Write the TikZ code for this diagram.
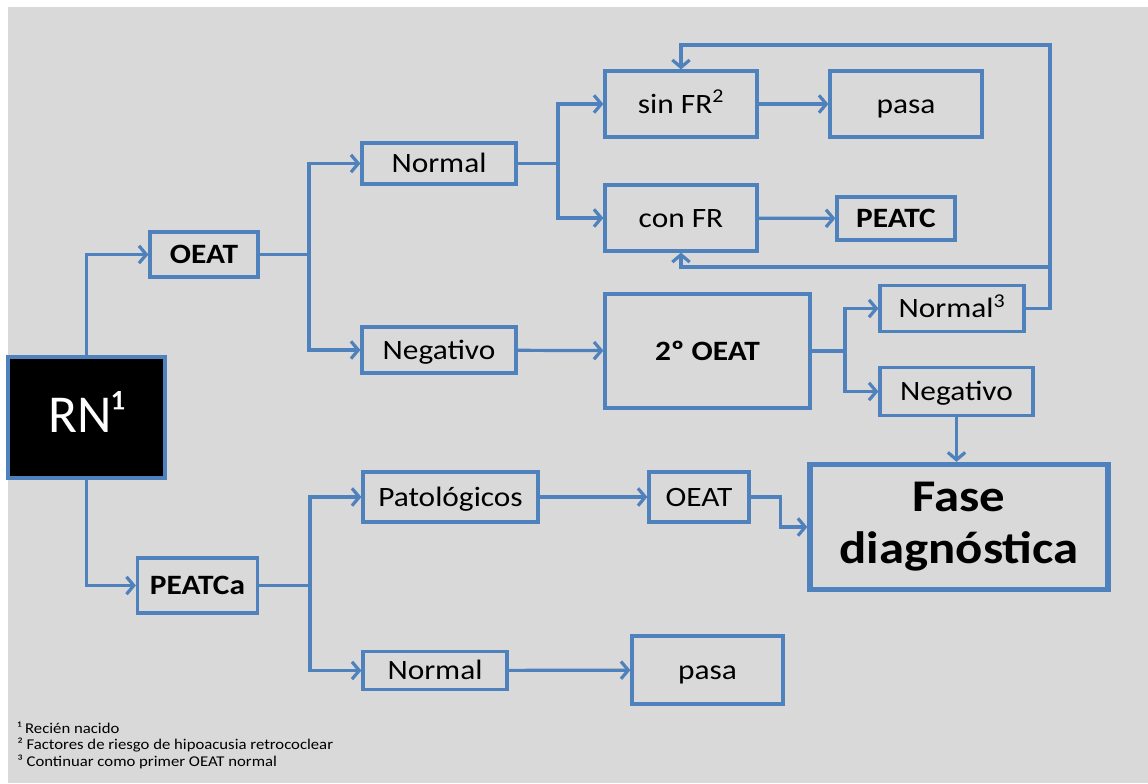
\documentclass[tikz,border=0pt]{standalone}
\usepackage{fontspec}
\setmainfont{Carlito}[FakeStretch=1.12]
\newfontfamily\rnfont{Carlito}
\usetikzlibrary{arrows.meta}
\definecolor{lineblue}{HTML}{4F81BD}
\definecolor{bggray}{HTML}{D9D9D9}

\begin{document}
\begin{tikzpicture}[x=0.75pt, y=-0.75pt,
      wh/.style 2 args={minimum width=#1*0.75pt, minimum height=#2*0.75pt},
      box/.style={draw=lineblue, line width=2.4pt, align=center, inner sep=0pt,
                  text height=18.5pt, text depth=5pt,
                  font=\fontsize{21}{25}\selectfont},
      bbox/.style={box, font=\bfseries\fontsize{21}{25}\selectfont},
      ln/.style={draw=lineblue, line width=2.4pt},
      arr/.style={ln, -{Straight Barb[length=5.5pt, width=13pt]}},
      note/.style={anchor=west, inner sep=0pt, font=\fontsize{11.2}{13}\selectfont}]
    \useasboundingbox (0,0) rectangle (1148,783);
    \fill[bggray] (8,7) rectangle (1148,783);

    \node[box, fill=black, text=white, wh={157}{121}, text height=28pt, text depth=6pt,
          font=\rnfont\fontsize{40}{44}\selectfont] (rn) at (86.5,417.5) {RN¹};
    \node[bbox, wh={108}{45}] (oeat) at (204,254.5) {OEAT};
    \node[bbox, wh={120}{55}] (peatca) at (197.5,585.5) {PEATCa};

    \node[box, wh={154}{41}] (nor1) at (439,163.5) {Normal};
    \node[box, wh={154}{46}] (neg1) at (439,350) {Negativo};
    \node[box, wh={152}{66}] (sinfr) at (681,104) {sin FR\textsuperscript{2}};
    \node[box, wh={152}{66}] (pasa1) at (906,104) {pasa};
    \node[box, wh={152}{66}] (confr) at (681,218) {con FR};
    \node[bbox, wh={118}{43}] (peatc) at (896,218.5) {PEATC};
    \node[bbox, wh={205}{114}] (oeat2) at (707.5,351) {2º OEAT};
    \node[box, wh={144}{46}] (nor3) at (952,308.5) {Normal\textsuperscript{3}};
    \node[box, wh={153}{48}] (neg2) at (956.5,391.5) {Negativo};
    \node[box, line width=4pt, wh={298}{125}, text height=, text depth=,
          font=\bfseries\fontsize{34}{39}\selectfont] (fase) at (959,527) {Fase\\diagnóstica};

    \node[box, wh={175}{50}] (patol) at (450.5,497) {Patológicos};
    \node[box, wh={100}{50}] (oeat3) at (699,497) {OEAT};
    \node[box, wh={144}{38}] (nor4) at (435,670.5) {Normal};
    \node[box, wh={151}{68}] (pasa2) at (707.5,670) {pasa};

    \coordinate (br1) at (309,254.5);
    \coordinate (br2) at (558,163.5);
    \coordinate (br3) at (845,351);
    \coordinate (br4) at (310,585.5);
    \coordinate (lp1) at (1050,45);
    \coordinate (lp2) at (1050,267);

    \draw[arr] (rn.north) |- (oeat.west);
    \draw[arr] (rn.south) |- (peatca.west);
    \draw[ln] (oeat.east) -- (br1);
    \draw[arr] (br1) |- (nor1.west);
    \draw[arr] (br1) |- (neg1.west);
    \draw[ln] (nor1.east) -- (br2);
    \draw[arr] (br2) |- (sinfr.west);
    \draw[arr] (br2) |- (confr.west);
    \draw[arr] (sinfr) -- (pasa1);
    \draw[arr] (confr) -- (peatc);
    \draw[arr] (neg1) -- (oeat2);
    \draw[ln] (oeat2.east) -- (br3);
    \draw[arr] (br3) |- (nor3.west);
    \draw[arr] (br3) |- (neg2.west);
    \draw[arr] (nor3.east) -| (lp1) -| (sinfr.north);
    \draw[arr] (lp2) -| (confr.south);
    \draw[arr] (neg2.south) -- (neg2.south |- fase.north);
    \draw[ln] (peatca.east) -- (br4);
    \draw[arr] (br4) |- (patol.west);
    \draw[arr] (br4) |- (nor4.west);
    \draw[arr] (patol) -- (oeat3);
    \draw[arr] (oeat3.east) -- ++(30,0) |- (fase.west);
    \draw[arr] (nor4) -- (pasa2);

    \node[note] (fn1) at (17,728) {¹ Recién nacido};
    \node[note] (fn2) at (17,745) {² Factores de riesgo de hipoacusia retrococlear};
    \node[note] (fn3) at (17,762) {³ Continuar como primer OEAT normal};
  \end{tikzpicture}
\end{document}
